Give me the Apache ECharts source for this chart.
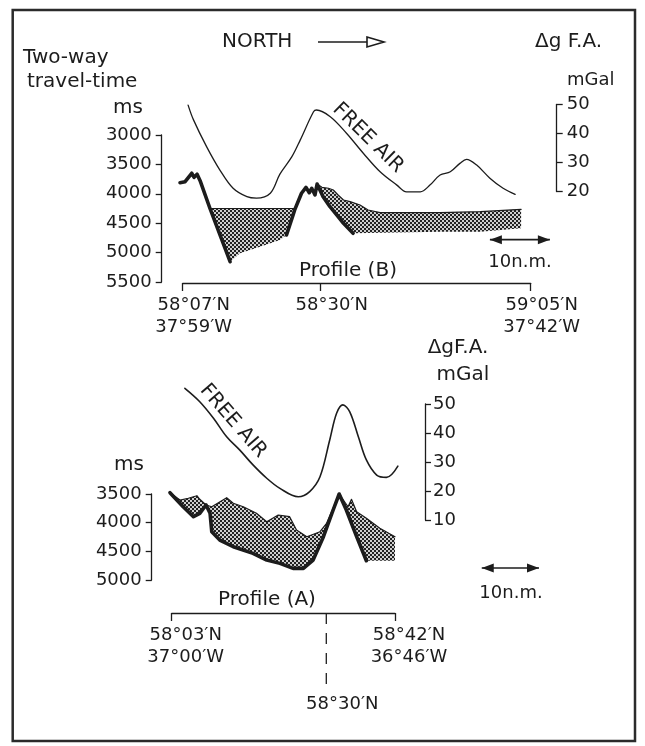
<!DOCTYPE html>
<html><head><meta charset="utf-8">
<script src="https://cdn.jsdelivr.net/npm/echarts@6/dist/echarts.min.js"></script>
<style>html,body{margin:0;padding:0;background:#fff}#c{width:645px;height:746px}</style>
</head><body><div id="c"></div>
<script>
// ---------- DATA ----------
// Profile (B) – upper panel; x = distance along profile in nautical miles from 58°07'N
const profBTicks = [0, 23, 58];
const profBLabels = ['58°07′N\n37°59′W', '58°30′N', '59°05′N\n37°42′W'];
const msTicksB = [3000, 3500, 4000, 4500, 5000, 5500];
const mgalTicksB = [20, 30, 40, 50];
const freeAirB = [[0.9,49.8],[1.8,44.7],[4.0,35.4],[6.2,27.4],[8.4,21.1],[10.7,18.2],[12.3,17.7],[14.6,19.4],[16.2,26.0],[18.2,32.0],[19.6,37.8],[21.8,47.5],[22.3,48.1],[24.6,45.8],[27.3,40.1],[30.1,33.2],[32.9,26.8],[35.7,22.2],[37.3,19.9],[39.6,19.9],[41.2,22.2],[42.9,25.7],[44.6,26.8],[46.2,29.7],[47.3,31.1],[49.0,29.1],[51.2,24.6],[53.4,21.1],[55.4,19.0]];
const seafloorB = [[-0.45,3811],[0.4,3794],[1.5,3651],[1.9,3720],[2.4,3668],[2.9,3777],[4.55,4250],[18.7,4250],[19.8,3991],[20.55,3890],[21.1,3981],[21.5,3906],[22.05,4020],[22.4,3833],[23.2,3890],[24.3,3906],[25.1,3935],[25.9,4020],[26.8,4105],[27.9,4134],[29.55,4190],[30.9,4276],[32.9,4321],[42.9,4321],[49.6,4304],[56.4,4264]];
const basementB = [[-0.45,3811],[0.4,3794],[1.5,3651],[1.9,3720],[2.4,3668],[2.9,3777],[4.55,4250],[7.9,5155],[9.55,5012],[12.9,4900],[16.2,4786],[17.3,4701],[18.4,4361],[18.7,4264],[19.8,3991],[20.55,3890],[21.1,3981],[21.5,3906],[22.05,4020],[22.4,3833],[23.4,4049],[24.55,4219],[25.7,4361],[26.8,4502],[28.4,4672],[42.9,4644],[49.6,4644],[56.4,4587]];
const boldRangesB = [[-1, 7.9], [17.3, 28.4]];
const scaleBarB = [51.2, 61.2, 4780];   // from nm, to nm, at ms

// Profile (A) – lower panel; x = nautical miles from 58°03'N
const profATicks = [0, 39];
const profALabels = ['58°03′N\n37°00′W', '58°42′N\n36°46′W'];
const profAMidTick = 27;
const profAMidLabel = '58°30′N';
const msTicksA = [3500, 4000, 4500, 5000];
const mgalTicksA = [10, 20, 30, 40, 50];
const freeAirA = [[2.3,55.4],[4.9,50.8],[7.3,45.1],[9.6,38.7],[11.9,34.1],[14.2,29.0],[16.6,24.4],[18.9,20.9],[22.1,18.0],[24.1,19.8],[25.9,24.9],[27.6,37.6],[28.8,46.8],[29.9,49.7],[31.1,47.3],[32.6,38.7],[34.0,30.7],[35.8,25.5],[37.5,24.7],[39.5,28.6]];
const seafloorA = [[-0.3,3477],[1.45,3605],[2.9,3575],[4.4,3530],[4.9,3592],[6.0,3692],[7.0,3722],[9.6,3565],[10.75,3662],[12.5,3722],[14.8,3837],[16.6,3983],[18.6,3866],[20.6,3896],[21.8,4128],[23.6,4245],[25.9,4158],[27.05,4011],[29.25,3500],[30.8,3722],[31.4,3592],[32.3,3809],[34.0,3924],[36.35,4099],[39.0,4245]];
const basementA = [[-0.3,3477],[2.0,3722],[3.8,3896],[4.9,3837],[6.0,3692],[6.7,3837],[7.0,4158],[8.4,4303],[10.75,4420],[14.2,4535],[16.6,4652],[18.9,4710],[21.2,4797],[23.0,4797],[24.7,4652],[26.5,4245],[28.2,3779],[29.25,3500],[30.5,3779],[32.3,4245],[34.0,4664],[39.0,4664]];
const boldRangesA = [[-1, 34.0]];
const scaleBarA = [54.15, 64.15, 4791];

// ---------- STYLE / LAYOUT ----------
const FONT = 'DejaVu Sans';
const INK = '#1c1c1c';
const stippleCanvas = (() => {
  const c = document.createElement('canvas'); c.width = 4; c.height = 4;
  const g = c.getContext('2d');
  g.fillStyle = '#cfcfcf'; g.fillRect(0, 0, 4, 4);
  g.fillStyle = '#222222'; g.fillRect(0, 0, 2, 2); g.fillRect(2, 2, 2, 2);
  return c;
})();

// panel geometry: pixel of 0 nm, px per nm, profile length, extended data range
const PB = {left: 182.7, len: 58, ppn: 6.0, msTop: 135, msH: 147, gTop: 104.5, gH: 87, xmin: -3, xmax: 66};
const PA = {left: 171.7, len: 39, ppn: 223.3 / 39, msTop: 494, msH: 86, gTop: 404, gH: 116, xmin: -3, xmax: 70};

const chart = echarts.init(document.getElementById('c'), null, {renderer: 'canvas'});

function lineS(xi, yi, data, width, extra) {
  return Object.assign({type: 'line', xAxisIndex: xi, yAxisIndex: yi, data: data, symbol: 'none', clip: false,
    silent: true, animation: false, lineStyle: {color: INK, width: width, join: 'round', cap: 'round'}}, extra || {});
}
function stippleS(xi, yi, top, bottom) {
  return {type: 'custom', xAxisIndex: xi, yAxisIndex: yi, coordinateSystem: 'cartesian2d', clip: false, silent: true,
    animation: false, z: 1, data: [top[0]],
    renderItem: function (params, api) {
      const pts = top.map(p => api.coord(p)).concat(bottom.slice().reverse().map(p => api.coord(p)));
      return {type: 'polygon', shape: {points: pts}, style: {fill: {image: stippleCanvas, repeat: 'repeat'}, stroke: null}};
    }};
}
function boldSeries(xi, yi, basement, ranges) {
  return ranges.map(r => lineS(xi, yi, basement.filter(p => p[0] >= r[0] && p[0] <= r[1]), 3.6, {z: 4}));
}
function arrowS(xi, yi, bar) {
  return {type: 'line', xAxisIndex: xi, yAxisIndex: yi, clip: false, silent: true, animation: false, showSymbol: true,
    symbolSize: [9, 12], itemStyle: {color: INK}, lineStyle: {color: INK, width: 1.6},
    data: [{value: [bar[0], bar[2]], symbol: 'triangle', symbolRotate: 90, symbolOffset: [6, 0]},
           {value: [bar[1], bar[2]], symbol: 'triangle', symbolRotate: -90, symbolOffset: [-6, 0]}]};
}
const labelFmt = (ticks, labels) => v => { const i = ticks.findIndex(t => Math.abs(t - v) < 1e-6); return i < 0 ? '' : labels[i]; };
const axisTxt = {fontFamily: FONT, fontSize: 18, color: INK};

function profileX(gi, max, ticks, labels, offset, pad) {
  return {gridIndex: gi, type: 'value', min: 0, max: max, position: 'bottom', offset: offset,
    axisLine: {show: true, onZero: false, lineStyle: {color: INK, width: 1.3}},
    axisTick: {show: true, customValues: ticks, length: 8, lineStyle: {color: INK, width: 1.3}},
    axisLabel: Object.assign({show: true, customValues: ticks, formatter: labelFmt(ticks, labels), lineHeight: 22,
      margin: 11, padding: [0, 0, 0, pad], align: 'center', verticalAlign: 'top'}, axisTxt),
    splitLine: {show: false}};
}
function valY(gi, ticks, inverse, pos, offset, margin) {
  return {gridIndex: gi, type: 'value', min: ticks[0], max: ticks[ticks.length - 1], interval: ticks[1] - ticks[0],
    inverse: inverse, position: pos, offset: offset,
    axisLine: {show: true, onZero: false, lineStyle: {color: INK, width: 1.3}},
    axisTick: {show: true, length: 6, lineStyle: {color: INK, width: 1.3}},
    axisLabel: Object.assign({show: true, margin: margin, formatter: v => String(v)}, axisTxt),
    splitLine: {show: false}};
}
const hidX = (gi, min, max) => ({gridIndex: gi, type: 'value', min: min, max: max, show: false});
const hidY = (gi, min, max, inv) => ({gridIndex: gi, type: 'value', min: min, max: max, inverse: !!inv, show: false});
const g = (left, top, width, height) => ({left: left, top: top, width: width, height: height, outerBoundsMode: 'none'});

function txt(text, x, y, size, align, rot) {
  return {type: 'text', x: x, y: y, rotation: rot || 0, silent: true,
    style: {text: text, font: size + 'px "' + FONT + '"', fill: INK, align: align || 'center', verticalAlign: 'middle'}};
}

const option = {
  animation: false,
  backgroundColor: '#ffffff',
  grid: [
    g(PB.left, PB.msTop, PB.len * PB.ppn, PB.msH),                                              // 0 B axes ms
    g(PB.left, PB.gTop, PB.len * PB.ppn, PB.gH),                                                // 1 B axes mGal
    g(PB.left + PB.xmin * PB.ppn, PB.msTop, (PB.xmax - PB.xmin) * PB.ppn, PB.msH),              // 2 B data ms
    g(PB.left + PB.xmin * PB.ppn, PB.gTop, (PB.xmax - PB.xmin) * PB.ppn, PB.gH),                // 3 B data mGal
    g(PA.left, PA.msTop, PA.len * PA.ppn, PA.msH),                                              // 4 A axes ms
    g(PA.left, PA.gTop, PA.len * PA.ppn, PA.gH),                                                // 5 A axes mGal
    g(PA.left + PA.xmin * PA.ppn, PA.msTop, (PA.xmax - PA.xmin) * PA.ppn, PA.msH),              // 6 A data ms
    g(PA.left + PA.xmin * PA.ppn, PA.gTop, (PA.xmax - PA.xmin) * PA.ppn, PA.gH),                // 7 A data mGal
    g(PA.left, 613, PA.len * PA.ppn, 75)                                                        // 8 A 58°30' marker
  ],
  xAxis: [
    profileX(0, PB.len, profBTicks, profBLabels, 1, 22),
    hidX(1, 0, PB.len),
    hidX(2, PB.xmin, PB.xmax),
    hidX(3, PB.xmin, PB.xmax),
    profileX(4, PA.len, profATicks, profALabels, 33, 28),
    hidX(5, 0, PA.len),
    hidX(6, PA.xmin, PA.xmax),
    hidX(7, PA.xmin, PA.xmax),
    hidX(8, 0, PA.len)
  ],
  yAxis: [
    valY(0, msTicksB, true, 'left', 21, 10),
    valY(1, mgalTicksB, false, 'right', 26, 10),
    hidY(2, msTicksB[0], msTicksB[msTicksB.length - 1], true),
    hidY(3, mgalTicksB[0], mgalTicksB[mgalTicksB.length - 1]),
    valY(4, msTicksA, true, 'left', 20, 10),
    valY(5, mgalTicksA, false, 'right', 30, 8),
    hidY(6, msTicksA[0], msTicksA[msTicksA.length - 1], true),
    hidY(7, mgalTicksA[0], mgalTicksA[mgalTicksA.length - 1]),
    hidY(8, 0, 1)
  ],
  series: [
    stippleS(2, 2, seafloorB, basementB),
    lineS(2, 2, seafloorB, 1.2, {z: 3}),
    ...boldSeries(2, 2, basementB, boldRangesB),
    lineS(3, 3, freeAirB, 1.3, {smooth: 0.35}),
    arrowS(2, 2, scaleBarB),
    stippleS(6, 6, seafloorA, basementA),
    lineS(6, 6, seafloorA, 1.2, {z: 3}),
    ...boldSeries(6, 6, basementA, boldRangesA),
    lineS(7, 7, freeAirA, 1.6, {smooth: 0.35}),
    arrowS(6, 6, scaleBarA),
    {type: 'line', xAxisIndex: 8, yAxisIndex: 8, clip: false, silent: true, animation: false,
      showSymbol: true, symbol: 'circle', symbolSize: 1, itemStyle: {color: 'rgba(0,0,0,0)'},
      lineStyle: {color: INK, width: 1.3, type: [11, 9]},
      data: [[profAMidTick, 1], {value: [profAMidTick, 0],
        label: Object.assign({show: true, formatter: profAMidLabel, position: 'bottom', distance: 7, offset: [16, 0]}, axisTxt)}]}
  ],
  graphic: [
    {type: 'rect', silent: true, shape: {x: 12.7, y: 10, width: 622.3, height: 731},
      style: {fill: null, stroke: '#2b2b2b', lineWidth: 2.5}},
    txt('NORTH', 222, 42, 20, 'left'),
    {type: 'line', silent: true, shape: {x1: 318, y1: 42, x2: 368, y2: 42}, style: {stroke: INK, lineWidth: 1.5}},
    {type: 'polygon', silent: true, shape: {points: [[367, 37], [384, 42], [367, 47]]}, style: {fill: '#fff', stroke: INK, lineWidth: 1.6}},
    txt('Δg F.A.', 535, 42, 20, 'left'),
    txt('Two-way', 23, 58, 20, 'left'),
    txt('travel-time', 27, 82, 20, 'left'),
    txt('ms', 128, 108, 20, 'center'),
    txt('mGal', 567, 80, 18, 'left'),
    txt('FREE AIR', 368, 138, 20, 'center', -44.5 * Math.PI / 180),
    txt('Profile (B)', 348, 271, 20, 'center'),
    txt('10n.m.', 520, 262, 18, 'center'),
    txt('ΔgF.A.', 458, 348, 20, 'center'),
    txt('mGal', 463, 375, 20, 'center'),
    txt('ms', 129, 465, 20, 'center'),
    txt('FREE AIR', 233, 421, 20, 'center', -49 * Math.PI / 180),
    txt('Profile (A)', 267, 600, 20, 'center'),
    txt('10n.m.', 511, 593, 18, 'center')
  ]
};
chart.setOption(option);
</script></body></html>
